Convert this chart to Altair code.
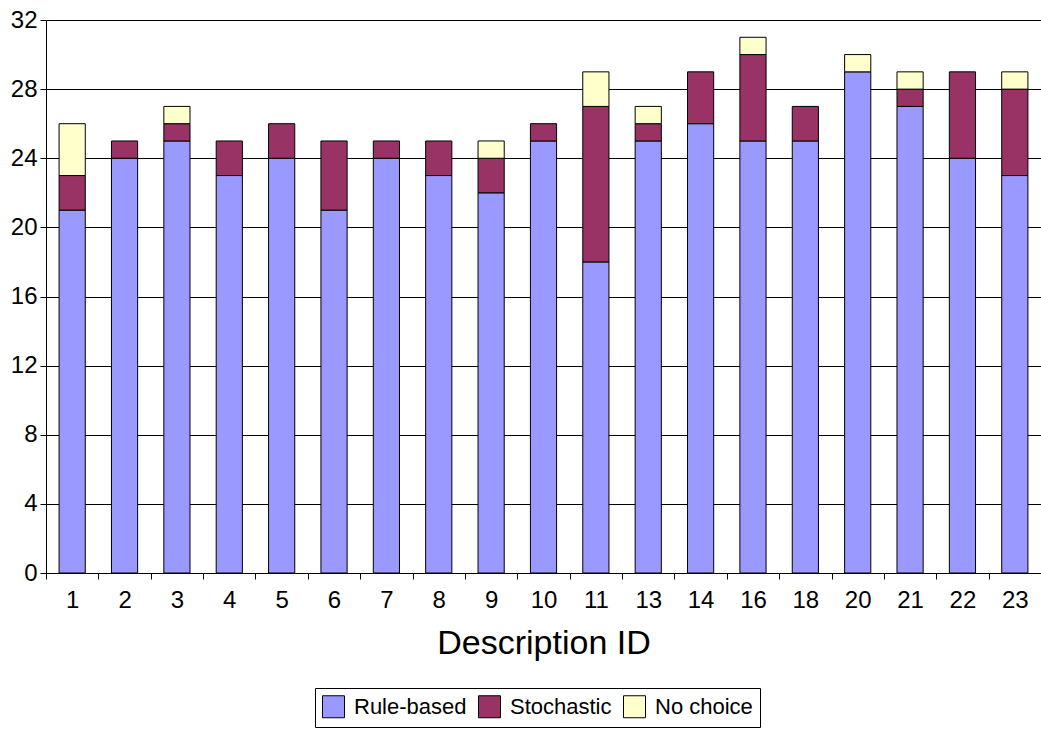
import altair as alt
import pandas as pd

ids = ["1", "2", "3", "4", "5", "6", "7", "8", "9", "10", "11", "13", "14", "16", "18", "20", "21", "22", "23"]
rule_based = [21, 24, 25, 23, 24, 21, 24, 23, 22, 25, 18, 25, 26, 25, 25, 29, 27, 24, 23]
stochastic = [2, 1, 1, 2, 2, 4, 1, 2, 2, 1, 9, 1, 3, 5, 2, 0, 1, 5, 5]
no_choice = [3, 0, 1, 0, 0, 0, 0, 0, 1, 0, 2, 1, 0, 1, 0, 1, 1, 0, 1]

series = ["Rule-based", "Stochastic", "No choice"]
colors = ["#9999FF", "#993366", "#FFFFCC"]

rows = []
for i, d in enumerate(ids):
    for k, (name, vals) in enumerate(zip(series, [rule_based, stochastic, no_choice])):
        if vals[i] > 0:
            rows.append({"id": d, "series": name, "value": vals[i], "ord": k})
df = pd.DataFrame(rows)

FONT = "Liberation Sans"

chart = alt.Chart(df).mark_bar(stroke="black", strokeWidth=1, width=alt.RelativeBandSize(0.5)).encode(
    x=alt.X("id:N", sort=ids, title="Description ID",
            scale=alt.Scale(paddingInner=0, paddingOuter=0),
            axis=alt.Axis(labelAngle=0, labelFontSize=24, labelFont=FONT, labelColor="black",
                          titleFontSize=34, titleFont=FONT, titleFontWeight="normal", titleColor="black",
                          titlePadding=14, labelPadding=9,
                          tickBand="extent", tickColor="black", tickSize=6, domainColor="black",
                          grid=False)),
    y=alt.Y("value:Q", stack="zero", title=None,
            scale=alt.Scale(domain=[0, 32], nice=False),
            axis=alt.Axis(values=[0, 4, 8, 12, 16, 20, 24, 28, 32], labelFontSize=24, labelFont=FONT,
                          labelColor="black", tickColor="black", tickSize=6, domainColor="black",
                          gridColor="black", gridWidth=1, labelPadding=3)),
    color=alt.Color("series:N", sort=series,
                    scale=alt.Scale(domain=series, range=colors),
                    legend=alt.Legend(title=None, orient="none", direction="horizontal",
                                      legendX=269, legendY=668,
                                      symbolType="square", symbolSize=484, symbolStrokeColor="black",
                                      symbolStrokeWidth=1, symbolOpacity=1,
                                      labelFontSize=22, labelFont=FONT, labelColor="black",
                                      labelOffset=9,
                                      strokeColor="black", padding=7, columnPadding=9,
                                      fillColor="white")),
    order=alt.Order("ord:Q"),
).properties(
    width=995, height=553,
    autosize=alt.AutoSizeParams(type="none"),
    padding={"left": 46, "top": 20, "right": 0, "bottom": 156},
).configure_view(stroke=None)

chart.save("out.html", embed_options={"renderer": "svg", "actions": False})
